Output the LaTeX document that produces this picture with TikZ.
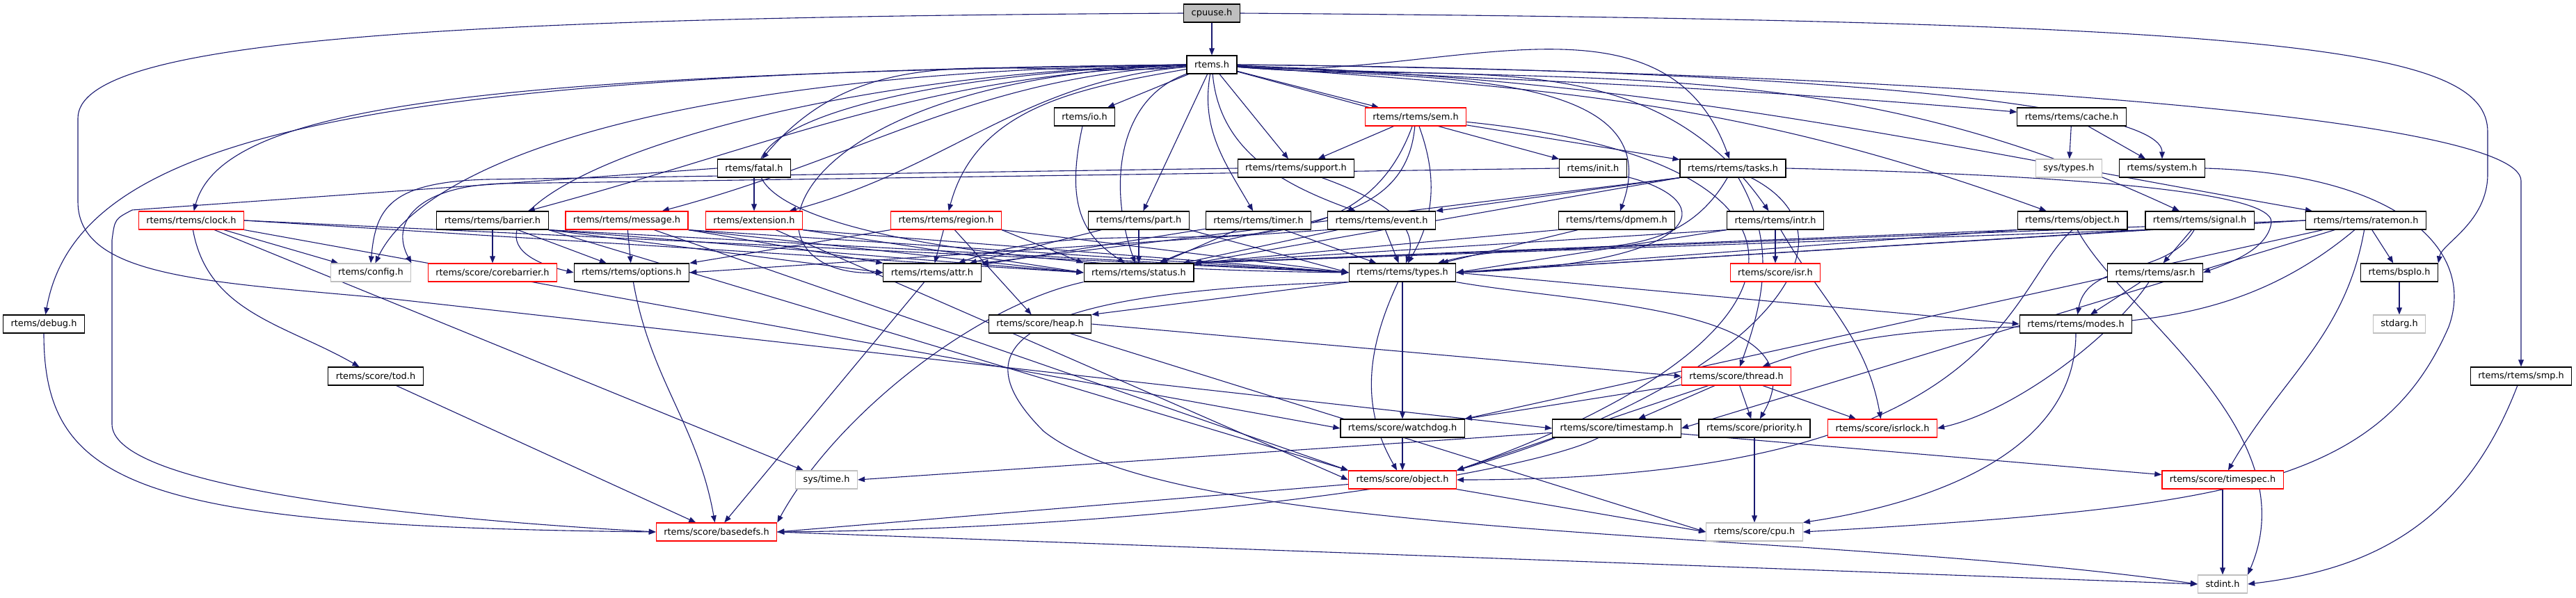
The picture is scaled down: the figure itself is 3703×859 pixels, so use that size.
\documentclass[tikz,border=0pt]{standalone}
\usepackage{fontspec}
\setmainfont{DejaVu Sans}
\usetikzlibrary{arrows.meta,backgrounds}
\definecolor{navy}{HTML}{191970}
\definecolor{gray75}{HTML}{BFBFBF}
\tikzset{
  hdr/.style={draw=black, line width=0.12mm, fill=white, minimum height=2.6mm, inner xsep=1.1mm, inner ysep=0pt, font=\fontsize{3.67}{4.4}\selectfont},
  trunc/.style={hdr, draw=red},
  ext/.style={hdr, draw=gray75},
  root/.style={hdr, fill=gray75},
  dep/.style={draw=navy, line width=0.11mm, -{Triangle[length=1mm,width=0.77mm]}}
}
\begin{document}
\begin{tikzpicture}[x=0.1mm,y=-0.1mm]
\useasboundingbox (0,0) rectangle (3703,859);
\node[root] (cpuuse) at (1742,19) {cpuuse.h};
\node[hdr] (rtems) at (1742,93) {rtems.h};
\node[hdr] (io) at (1559,168) {rtems/io.h};
\node[trunc] (sem) at (2035,168) {rtems/rtems/sem.h};
\node[hdr] (cache) at (2978,168) {rtems/rtems/cache.h};
\node[hdr] (fatal) at (1084,242) {rtems/fatal.h};
\node[hdr] (support) at (1863,242) {rtems/rtems/support.h};
\node[hdr] (init) at (2290,242) {rtems/init.h};
\node[hdr] (tasks) at (2491,242) {rtems/rtems/tasks.h};
\node[ext] (systypes) at (2974,242) {sys/types.h};
\node[hdr] (system) at (3108,242) {rtems/system.h};
\node[trunc] (clock) at (275,317) {rtems/rtems/clock.h};
\node[hdr] (barrier) at (708,317) {rtems/rtems/barrier.h};
\node[trunc] (message) at (901,317) {rtems/rtems/message.h};
\node[trunc] (extension) at (1084,317) {rtems/extension.h};
\node[trunc] (region) at (1360,317) {rtems/rtems/region.h};
\node[hdr] (part) at (1637,317) {rtems/rtems/part.h};
\node[hdr] (timer) at (1809,317) {rtems/rtems/timer.h};
\node[hdr] (event) at (1986,317) {rtems/rtems/event.h};
\node[hdr] (dpmem) at (2324,317) {rtems/rtems/dpmem.h};
\node[hdr] (intr) at (2552,317) {rtems/rtems/intr.h};
\node[hdr] (robject) at (2979,317) {rtems/rtems/object.h};
\node[hdr] (signal) at (3162,317) {rtems/rtems/signal.h};
\node[hdr] (ratemon) at (3401,317) {rtems/rtems/ratemon.h};
\node[ext] (config) at (533,392) {rtems/config.h};
\node[trunc] (corebarrier) at (708,392) {rtems/score/corebarrier.h};
\node[hdr] (options) at (908,392) {rtems/rtems/options.h};
\node[hdr] (attr) at (1340,392) {rtems/rtems/attr.h};
\node[hdr] (status) at (1637,392) {rtems/rtems/status.h};
\node[hdr] (types) at (2016,392) {rtems/rtems/types.h};
\node[trunc] (isr) at (2552,392) {rtems/score/isr.h};
\node[hdr] (asr) at (3098,392) {rtems/rtems/asr.h};
\node[hdr] (bspio) at (3449,392) {rtems/bspIo.h};
\node[hdr] (debug) at (63,466) {rtems/debug.h};
\node[hdr] (heap) at (1495,466) {rtems/score/heap.h};
\node[hdr] (modes) at (2984,466) {rtems/rtems/modes.h};
\node[ext] (stdarg) at (3449,466) {stdarg.h};
\node[hdr] (tod) at (540,541) {rtems/score/tod.h};
\node[trunc] (thread) at (2496,541) {rtems/score/thread.h};
\node[hdr] (smp) at (3624,541) {rtems/rtems/smp.h};
\node[hdr] (watchdog) at (2016,616) {rtems/score/watchdog.h};
\node[hdr] (timestamp) at (2324,616) {rtems/score/timestamp.h};
\node[hdr] (priority) at (2522,616) {rtems/score/priority.h};
\node[trunc] (isrlock) at (2706,616) {rtems/score/isrlock.h};
\node[ext] (systime) at (1188,690) {sys/time.h};
\node[trunc] (sobject) at (2016,690) {rtems/score/object.h};
\node[trunc] (timespec) at (3195,690) {rtems/score/timespec.h};
\node[trunc] (basedefs) at (1030,765) {rtems/score/basedefs.h};
\node[ext] (cpu) at (2522,765) {rtems/score/cpu.h};
\node[ext] (stdint) at (3195,840) {stdint.h};
\begin{scope}[on background layer]
\draw[dep] (cpuuse) -- (rtems);
\draw[dep] (cpuuse.east) .. controls (3300,30) and (3576,70) .. (3576,190) -- (3576,250) .. controls (3576,320) and (3510,350) .. (bspio.north east);
\draw[dep] (cpuuse.west) .. controls (600,25) and (112,60) .. (112,170) -- (112,290) .. controls (112,400) and (300,405) .. (565,430) -- (timestamp.west);
\draw[dep] (rtems) -- (io);
\draw[dep] (rtems) -- (sem);
\draw[dep] (rtems) -- (support);
\draw[dep] (rtems) -- (part);
\draw[dep] (rtems) -- (init);
\draw[dep] (rtems) to[out=-100,in=120] (timer);
\draw[dep] (rtems) to[out=-85,in=160] (event);
\draw[dep] (rtems) to[out=200,in=110] (status);
\draw[dep] (rtems) to[out=190,in=75] (region);
\draw[dep] (rtems) to[out=185,in=15] (extension);
\draw[dep] (rtems) to[out=183,in=15] (message);
\draw[dep] (rtems) to[out=182,in=15] (barrier);
\draw[dep] (rtems) to[out=185,in=50] (fatal);
\draw[dep] (rtems.west) .. controls (900,105) and (600,250) .. (config);
\draw[dep] (rtems.west) .. controls (700,108) and (320,150) .. (clock);
\draw[dep] (rtems.west) .. controls (500,105) and (110,200) .. (debug);
\draw[dep] (rtems.west) .. controls (1000,110) and (560,330) .. (options.west);
\draw[dep] (rtems.west) .. controls (1100,115) and (1050,400) .. (attr.west);
\draw[dep] (rtems.west) .. controls (900,120) and (800,380) .. (types.west);
\draw[dep] (rtems) to[out=-5,in=110] (tasks);
\draw[dep] (rtems) to[out=-5,in=70] (dpmem);
\draw[dep] (rtems) to[out=-5,in=125] (intr);
\draw[dep] (rtems) to[out=-3,in=175] (cache);
\draw[dep] (rtems.east) .. controls (2600,100) and (3108,150) .. (system.north);
\draw[dep] (rtems) to[out=-4,in=160] (robject);
\draw[dep] (rtems) to[out=-3,in=155] (signal);
\draw[dep] (rtems) to[out=-2,in=170] (ratemon);
\draw[dep] (rtems.east) .. controls (2800,105) and (3624,170) .. (3624,260) -- (smp.north);
\draw[dep] (io) .. controls (1530,300) and (1560,340) .. (status);
\draw[dep] (sem) -- (support);
\draw[dep] (sem) -- (tasks);
\draw[dep] (sem) to[out=-110,in=20] (attr);
\draw[dep] (sem) to[out=-95,in=25] (status);
\draw[dep] (sem) to[out=-70,in=60] (types);
\draw[dep] (sem) .. controls (2650,230) and (2650,480) .. (sobject.north east);
\draw[dep] (cache) -- (systypes);
\draw[dep] (cache) -- (system);
\draw[dep] (fatal) -- (extension);
\draw[dep] (fatal.west) -- (190,302) .. controls (165,315) .. (161,345) -- (161,610) .. controls (161,690) and (500,740) .. (basedefs.west);
\draw[dep] (support) to[out=-20,in=70] (types);
\draw[dep] (support.west) -- (700,258) .. controls (560,262) and (540,300) .. (config.north);
\draw[dep] (init.west) -- (720,264) .. controls (600,268) and (560,320) .. (config.north east);
\draw[dep] (init) .. controls (2480,290) and (2450,380) .. (types.east);
\draw[dep] (tasks.south west) -- (event.north east);
\draw[dep] (tasks.south west) -- (attr.north east);
\draw[dep] (tasks.south west) -- (status.north east);
\draw[dep] (tasks) to[out=-120,in=15] (types);
\draw[dep] (tasks) to[out=-60,in=70] (thread);
\draw[dep] (tasks) .. controls (2700,350) and (2500,560) .. (sobject.north east);
\draw[dep] (tasks.east) .. controls (2900,250) and (3270,270) .. (3265,320) .. controls (3260,360) and (3200,380) .. (asr.east);
\draw[dep] (clock) -- (config);
\draw[dep] (clock) to[out=-80,in=150] (tod);
\draw[dep] (clock) -- (systime);
\draw[dep] (clock.south east) -- (watchdog.west);
\draw[dep] (clock.east) -- (status.west);
\draw[dep] (clock.east) -- (types.west);
\draw[dep] (barrier) -- (corebarrier);
\draw[dep] (barrier) -- (options);
\draw[dep] (barrier.south east) -- (attr.west);
\draw[dep] (barrier.south east) -- (status.west);
\draw[dep] (barrier.south east) -- (types.west);
\draw[dep] (barrier.south east) -- (sobject.north west);
\draw[dep] (message) -- (options);
\draw[dep] (message.south east) -- (attr.north west);
\draw[dep] (message.south east) -- (status.west);
\draw[dep] (message.south east) -- (types.west);
\draw[dep] (message) -- (sobject.north west);
\draw[dep] (extension.south east) -- (status.west);
\draw[dep] (extension.south east) -- (types.west);
\draw[dep] (extension) -- (sobject.west);
\draw[dep] (region) -- (attr);
\draw[dep] (region) -- (heap);
\draw[dep] (region.south east) -- (status.north west);
\draw[dep] (region.south east) -- (types.west);
\draw[dep] (region.south west) -- (options.north east);
\draw[dep] (part) -- (status);
\draw[dep] (part) -- (attr);
\draw[dep] (part.south east) -- (types.west);
\draw[dep] (timer) -- (attr);
\draw[dep] (timer) -- (status);
\draw[dep] (timer) -- (types);
\draw[dep] (event) -- (types);
\draw[dep] (event) -- (status);
\draw[dep] (event.south west) -- (options.east);
\draw[dep] (dpmem) -- (types);
\draw[dep] (dpmem.south west) -- (status.north east);
\draw[dep] (intr) -- (isr);
\draw[dep] (intr) to[out=-60,in=100] (isrlock);
\draw[dep] (intr.south west) -- (types.east);
\draw[dep] (intr.south west) -- (status.north east);
\draw[dep] (robject.south west) -- (types.east);
\draw[dep] (robject.south west) -- (status.north east);
\draw[dep] (robject.south) .. controls (2880,420) and (2880,690) .. (sobject.east);
\draw[dep] (robject) .. controls (3050,450) and (3320,620) .. (stdint.north east);
\draw[dep] (signal) -- (asr);
\draw[dep] (signal) to[out=-120,in=80] (modes);
\draw[dep] (signal.south west) -- (types.east);
\draw[dep] (signal.south west) -- (status.north east);
\draw[dep] (ratemon) -- (bspio);
\draw[dep] (ratemon) to[out=-100,in=60] (timespec);
\draw[dep] (ratemon) to[out=-140,in=20] (thread);
\draw[dep] (ratemon) -- (timestamp.east);
\draw[dep] (ratemon) -- (watchdog.north east);
\draw[dep] (ratemon.west) -- (types.east);
\draw[dep] (ratemon.west) -- (status.north east);
\draw[dep] (asr) -- (modes);
\draw[dep] (asr) .. controls (3040,480) and (2900,590) .. (isrlock.east);
\draw[dep] (bspio) -- (stdarg);
\draw[dep] (types.south west) -- (heap.north east);
\draw[dep] (types) -- (watchdog);
\draw[dep] (types) to[out=-115,in=120] (sobject);
\draw[dep] (types.east) -- (modes.west);
\draw[dep] (types.south east) to[out=-10,in=60] (priority);
\draw[dep] (types.south west) .. controls (1450,420) and (1380,500) .. (1500,620) .. controls (1700,780) and (2600,760) .. (stdint.west);
\draw[dep] (heap.east) -- (thread.west);
\draw[dep] (heap) -- (cpu.west);
\draw[dep] (modes) .. controls (2984,640) and (2800,720) .. (cpu.north east);
\draw[dep] (thread) -- (watchdog.north east);
\draw[dep] (thread) -- (timestamp);
\draw[dep] (thread) -- (priority);
\draw[dep] (thread) -- (isrlock);
\draw[dep] (thread) -- (sobject.north east);
\draw[dep] (watchdog) -- (sobject);
\draw[dep] (timestamp) -- (systime.east);
\draw[dep] (timestamp) -- (timespec);
\draw[dep] (timestamp) .. controls (2200,680) and (1700,760) .. (basedefs.east);
\draw[dep] (priority) -- (cpu);
\draw[dep] (system.east) .. controls (3450,250) and (3560,360) .. (3520,470) .. controls (3420,700) and (3200,730) .. (cpu.east);
\draw[dep] (sobject) -- (basedefs.east);
\draw[dep] (sobject.south east) -- (cpu.west);
\draw[dep] (tod) -- (basedefs);
\draw[dep] (debug) .. controls (63,700) and (200,757) .. (basedefs.west);
\draw[dep] (status.south west) .. controls (1400,440) and (1200,600) .. (basedefs.north east);
\draw[dep] (attr) -- (basedefs);
\draw[dep] (options) to[out=-80,in=100] (basedefs);
\draw[dep] (basedefs.east) -- (stdint.west);
\draw[dep] (timespec) -- (stdint);
\draw[dep] (smp) .. controls (3540,760) and (3400,820) .. (stdint.east);
\end{scope}
\end{tikzpicture}
\end{document}
